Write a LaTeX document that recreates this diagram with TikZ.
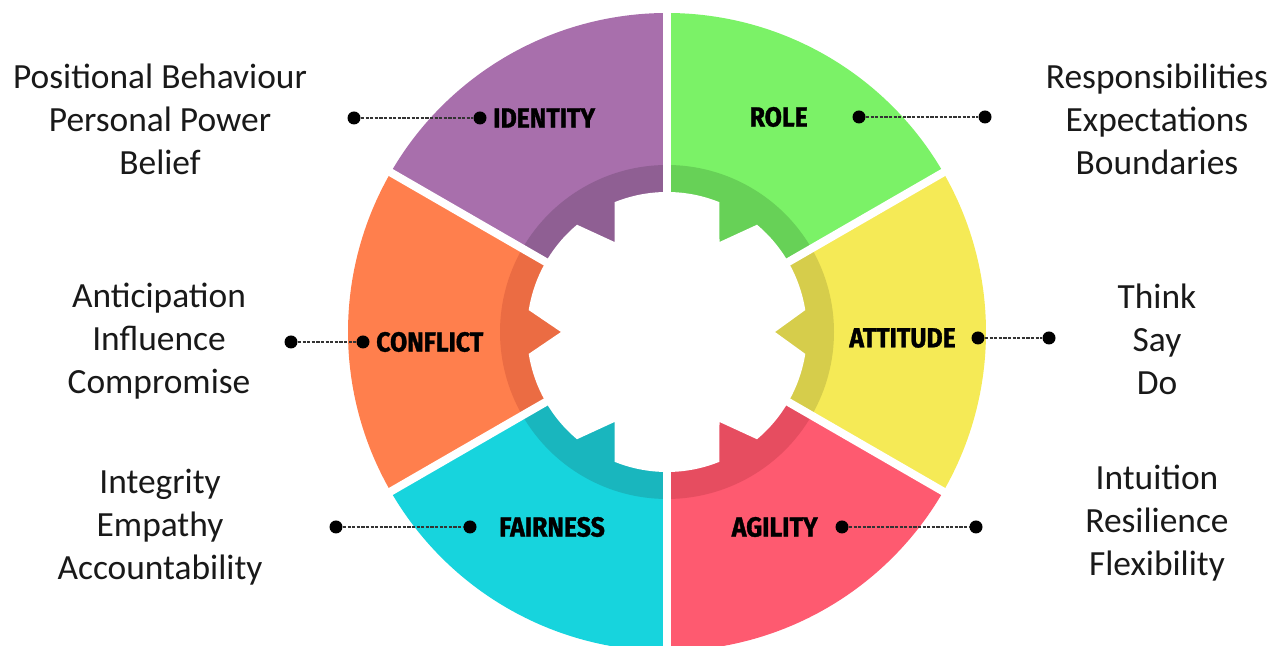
\documentclass[tikz,border=0pt]{standalone}
\usepackage{fontspec}
\setmainfont{Carlito}
\newfontfamily\segfont[FakeStretch=0.9,FakeBold=1.2]{Fira Sans}
\usetikzlibrary{positioning}

\definecolor{purpleL}{HTML}{A86FAC}
\definecolor{purpleD}{HTML}{8F5F93}
\definecolor{greenL}{HTML}{7BF267}
\definecolor{greenD}{HTML}{67D157}
\definecolor{yellowL}{HTML}{F5EA56}
\definecolor{yellowD}{HTML}{D6CD4B}
\definecolor{pinkL}{HTML}{FE5A70}
\definecolor{pinkD}{HTML}{E64D60}
\definecolor{cyanL}{HTML}{17D4DD}
\definecolor{cyanD}{HTML}{19B6BE}
\definecolor{orangeL}{HTML}{FF7F4D}
\definecolor{orangeD}{HTML}{EB6C43}

\begin{document}
\begin{tikzpicture}[x=0.5pt,y=0.5pt,
  dot/.style={circle,fill=black,inner sep=0pt,minimum size=6.5pt},
  link/.style={draw=black!80,line width=0.7pt,dash pattern=on 1.6pt off 0.7pt},
  seg/.style={font=\segfont\bfseries\fontsize{13.8}{15}\selectfont,inner sep=1pt,text=black},
  side/.style={align=center,font=\fontsize{17.7}{21.5}\selectfont,text=black!90},
  gapline/.style={white,line width=4pt}]
\useasboundingbox (0,0) rectangle (1282,646);

% the wheel
\begin{scope}[shift={(667,314)}]
  \fill[greenL]  (0,0) -- (30:319)  arc[start angle=30,end angle=90,radius=319] -- cycle;
  \fill[purpleL] (0,0) -- (90:319)  arc[start angle=90,end angle=150,radius=319] -- cycle;
  \fill[orangeL] (0,0) -- (150:319) arc[start angle=150,end angle=210,radius=319] -- cycle;
  \fill[cyanL]   (0,0) -- (210:319) arc[start angle=210,end angle=270,radius=319] -- cycle;
  \fill[pinkL]   (0,0) -- (270:319) arc[start angle=270,end angle=330,radius=319] -- cycle;
  \fill[yellowL] (0,0) -- (330:319) arc[start angle=330,end angle=390,radius=319] -- cycle;
  % darker inner band
  \fill[greenD]  (0,0) -- (30:167)  arc[start angle=30,end angle=90,radius=167] -- cycle;
  \fill[purpleD] (0,0) -- (90:167)  arc[start angle=90,end angle=150,radius=167] -- cycle;
  \fill[orangeD] (0,0) -- (150:167) arc[start angle=150,end angle=210,radius=167] -- cycle;
  \fill[cyanD]   (0,0) -- (210:167) arc[start angle=210,end angle=270,radius=167] -- cycle;
  \fill[pinkD]   (0,0) -- (270:167) arc[start angle=270,end angle=330,radius=167] -- cycle;
  \fill[yellowD] (0,0) -- (330:167) arc[start angle=330,end angle=390,radius=167] -- cycle;
  % white hub with the teeth left out
  \fill[white] (68:140) arc[start angle=68,end angle=112,radius=140]
    -- (-52.5,90) -- (130:140) arc[start angle=130,end angle=171,radius=140]
    -- (180:106) -- (189:140) arc[start angle=189,end angle=230,radius=140]
    -- (-52.5,-90) -- (248:140) arc[start angle=248,end angle=292,radius=140]
    -- (52.5,-90) -- (310:140) arc[start angle=310,end angle=351,radius=140]
    -- (0:108) -- (9:140) arc[start angle=9,end angle=50,radius=140]
    -- (52.5,90) -- cycle;
  % gaps between the parts
  \draw[gapline] (0,0) -- (90:330);
  \draw[gapline] (0,0) -- (30:330);
  \draw[gapline] (0,0) -- (-30:330);
  \draw[gapline] (0,0) -- (-90:330);
  \draw[gapline] (0,0) -- (150:330);
  \draw[gapline] (0,0) -- (210:330);
\end{scope}

% dots and links
\node[dot] (idout) at (354,528) {};
\node[dot] (idin) at (480,528) {};
\node[dot] (rolein) at (859,529) {};
\node[dot] (roleout) at (985,529) {};
\node[dot] (cfout) at (291,304) {};
\node[dot] (cfin) at (363,304) {};
\node[dot] (atin) at (978,308) {};
\node[dot] (atout) at (1049,308) {};
\node[dot] (fairout) at (336,119) {};
\node[dot] (fairin) at (470,119) {};
\node[dot] (agin) at (842,119) {};
\node[dot] (agout) at (976,119) {};
\draw[link] (idout) -- (idin);
\draw[link] (rolein) -- (roleout);
\draw[link] (cfout) -- (cfin);
\draw[link] (atin) -- (atout);
\draw[link] (fairout) -- (fairin);
\draw[link] (agin) -- (agout);

% names on the wheel
\node[seg, right=2pt of idin] (identity) {IDENTITY};
\node[seg, left=21pt of rolein] (role) {ROLE};
\node[seg, right=2pt of cfin] (conflict) {CONFLICT};
\node[seg, left=6.5pt of atin] (attitude) {ATTITUDE};
\node[seg, right=10pt of fairin] (fairness) {FAIRNESS};
\node[seg, left=7.5pt of agin] (agility) {AGILITY};

% lists beside the wheel
\node[side] (identitylist) at (160,527) {Positional Behaviour\\Personal Power\\Belief};
\node[side] (conflictlist) at (159,305) {Anticipation\\Influence\\Compromise};
\node[side] (fairnesslist) at (160,119) {Integrity\\Empathy\\Accountability};
\node[side] (rolelist) at (1157,527) {Responsibilities\\Expectations\\Boundaries};
\node[side] (attitudelist) at (1157,307) {Think\\Say\\Do};
\node[side] (agilitylist) at (1157,123) {Intuition\\Resilience\\Flexibility};

\end{tikzpicture}
\end{document}
